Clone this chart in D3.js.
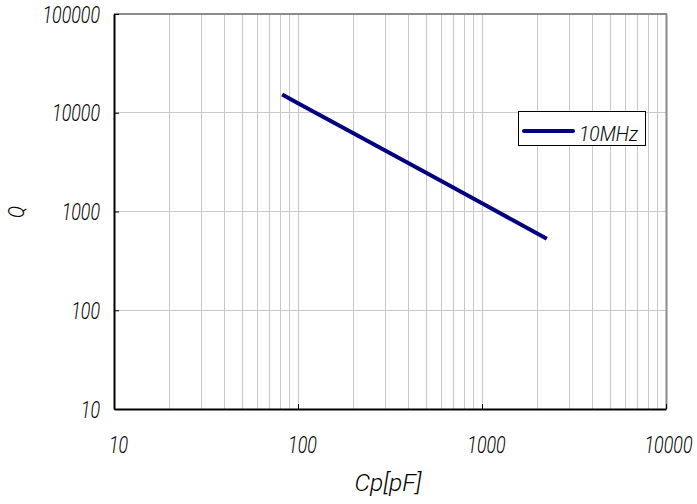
<!DOCTYPE html>
<html><head><meta charset="utf-8">
<script src="https://cdn.jsdelivr.net/npm/d3@7"></script>
<style>
body{margin:0;background:#fff;}
text{font-family:Roboto,"Liberation Sans",sans-serif;font-weight:300;font-style:italic;fill:#000;}
</style></head><body>
<svg id="c" width="697" height="504"></svg>
<script>
const cp = [82, 100, 200, 500, 1000, 2250];
const q10MHz = [15300, 12500, 6200, 2450, 1210, 530];
const seriesName = "10MHz";
const xTicks = [10, 100, 1000, 10000];
const yTicks = [10, 100, 1000, 10000, 100000];
const xTitle = "Cp[pF]";
const yTitle = "Q";

const svg = d3.select("#c");
const L = 114, R = 666, T = 14, B = 409;
const x = d3.scaleLog().domain([10, 10000]).range([L, R]);
const y = d3.scaleLog().domain([10, 100000]).range([B, T]);
const CH = 9.6; // narrow glyph advance of the reference font

// squeeze a text horizontally to a given width, keeping its anchor
function fit(sel, tx, ty, widthFn, rot) {
  sel.each(function (d) {
    const t = d3.select(this).attr("x", 0).attr("y", 0).attr("dy", null);
    const w = this.getComputedTextLength();
    const s = widthFn(this) / w;
    t.attr("transform", `translate(${typeof tx === "function" ? tx(d) : tx},${ty})${rot ? " rotate(" + rot + ")" : ""} scale(${s},1)`);
  });
}

// minor/major vertical grid
const xGrid = [];
for (let d = 10; d < 10000; d *= 10) for (let k = 1; k <= 9; k++) { const v = d * k; if (v > 10 && v < 10000) xGrid.push(v); }
svg.append("g").selectAll("line").data(xGrid).join("line")
  .attr("x1", d => x(d)).attr("x2", d => x(d)).attr("y1", T).attr("y2", B)
  .attr("stroke", "#c8c8c8").attr("stroke-width", 1).attr("shape-rendering", "crispEdges");
svg.append("g").selectAll("line").data(yTicks.filter(d => d > 10 && d < 100000)).join("line")
  .attr("x1", L).attr("x2", R).attr("y1", d => y(d)).attr("y2", d => y(d))
  .attr("stroke", "#c8c8c8").attr("stroke-width", 1).attr("shape-rendering", "crispEdges");

// frame: top and right grey
svg.append("line").attr("x1", L).attr("x2", R + 1).attr("y1", T).attr("y2", T).attr("stroke", "#8c8c8c").attr("stroke-width", 2);
svg.append("line").attr("x1", R + 0.5).attr("x2", R + 0.5).attr("y1", T).attr("y2", B).attr("stroke", "#8c8c8c").attr("stroke-width", 2);

// axes
const xAxis = d3.axisBottom(x).tickValues(xTicks).tickSizeInner(-5).tickSizeOuter(0).tickFormat(d3.format("d"));
const gx = svg.append("g").attr("transform", `translate(0,${B})`).call(xAxis);
gx.select(".domain").attr("stroke", "#000").attr("stroke-width", 2);
gx.selectAll(".tick line").attr("stroke", "#000");
fit(gx.selectAll(".tick text").attr("font-size", 24).attr("font-family", null),
    d => d === 10000 ? 2 : 4, 44, el => el.textContent.length * CH);

const yAxis = d3.axisLeft(y).tickValues(yTicks).tickSizeInner(-5).tickSizeOuter(0).tickFormat(d3.format("d"));
const gy = svg.append("g").attr("transform", `translate(${L},0)`).call(yAxis);
gy.select(".domain").attr("stroke", "#000").attr("stroke-width", 2);
gy.selectAll(".tick line").attr("stroke", "#000");
fit(gy.selectAll(".tick text").attr("font-size", 24).attr("font-family", null),
    -14, 8, el => el.textContent.length * CH);

// series
svg.append("path").datum(cp.map((c, i) => [c, q10MHz[i]]))
  .attr("d", d3.line().x(d => x(d[0])).y(d => y(d[1])))
  .attr("fill", "none").attr("stroke", "#000080").attr("stroke-width", 4);

// legend
const lg = svg.append("g");
lg.append("rect").attr("x", 518.5).attr("y", 111.5).attr("width", 127).attr("height", 34)
  .attr("fill", "#fff").attr("stroke", "#000").attr("stroke-width", 1);
lg.append("line").attr("x1", 524).attr("x2", 573).attr("y1", 131).attr("y2", 131)
  .attr("stroke", "#000080").attr("stroke-width", 4).attr("stroke-linecap", "round");
fit(lg.append("text").attr("font-size", 20).text(seriesName), 579, 140.5, () => 59);

// titles
fit(svg.append("text").attr("text-anchor", "middle").attr("font-size", 24).text(xTitle), 388, 491, () => 67);
fit(svg.append("text").attr("text-anchor", "middle").attr("font-size", 22).text(yTitle), 24, 212, () => 12, -90);
</script></body></html>
